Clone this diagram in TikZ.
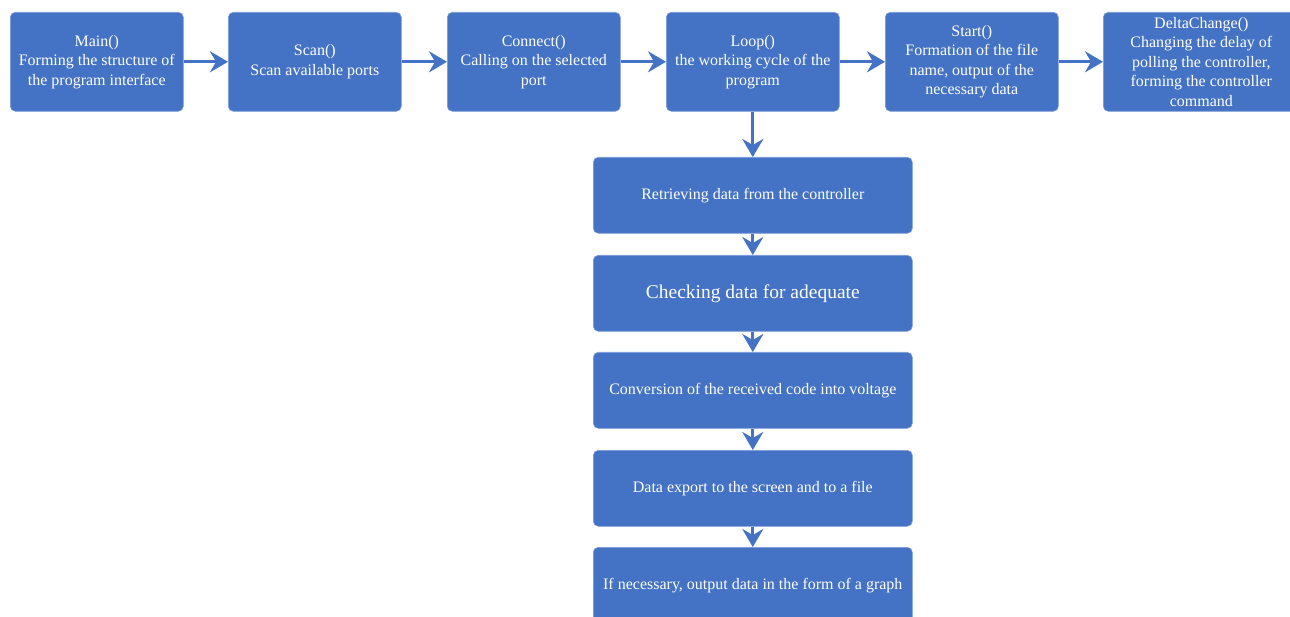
\documentclass[tikz,border=0pt]{standalone}
\usepackage{fontspec}
\setmainfont{Liberation Serif}
\usetikzlibrary{arrows.meta}
\definecolor{boxblue}{HTML}{4472C4}
\begin{document}
\begin{tikzpicture}[x=1pt,y=-1pt,
  box/.style={fill=boxblue, draw=boxblue!70!white, line width=0.6pt, rounded corners=5pt, text=white, align=center, inner sep=0pt, anchor=north west},
  topbox/.style={box, minimum width=173pt, minimum height=99pt, font=\fontsize{16}{19.5}\selectfont},
  lowbox/.style={box, minimum width=319pt, minimum height=76pt, font=\fontsize{16}{19}\selectfont},
  conn/.style={draw=boxblue, line width=3pt, -{Stealth[length=18pt,width=21pt,inset=6pt]}}
]
\useasboundingbox (0,0) rectangle (1290,617);
\clip (0,0) rectangle (1290,617);
\node[topbox] (main) at (10,12) {Main()\\Forming the structure of\\the program interface};
\node[topbox] (scan) at (228,12) {Scan()\\Scan available ports};
\node[topbox] (conn) at (447,12) {Connect()\\Calling on the selected\\port};
\node[topbox] (loop) at (666,12) {Loop()\\the working cycle of the\\program};
\node[topbox] (start) at (885,12) {Start()\\Formation of the file\\name, output of the\\necessary data};
\node[topbox, minimum width=196pt] (delta) at (1103,12) {DeltaChange()\\Changing the delay of\\polling the controller,\\forming the controller\\command};

\node[lowbox] (r1) at (593,157) {Retrieving data from the controller};
\node[lowbox, font=\fontsize{19.5}{23}\selectfont] (r2) at (593,255) {Checking data for adequate};
\node[lowbox] (r3) at (593,352) {Conversion of the received code into voltage};
\node[lowbox] (r4) at (593,450) {Data export to the screen and to a file};
\node[lowbox] (r5) at (593,547) {If necessary, output data in the form of a graph};

\draw[conn] (main.east) -- (scan.west);
\draw[conn] (scan.east) -- (conn.west);
\draw[conn] (conn.east) -- (loop.west);
\draw[conn] (loop.east) -- (start.west);
\draw[conn] (start.east) -- (delta.west);
\draw[conn] (loop.south) -- (r1.north);
\draw[conn] (r1.south) -- (r2.north);
\draw[conn] (r2.south) -- (r3.north);
\draw[conn] (r3.south) -- (r4.north);
\draw[conn] (r4.south) -- (r5.north);
\end{tikzpicture}
\end{document}
